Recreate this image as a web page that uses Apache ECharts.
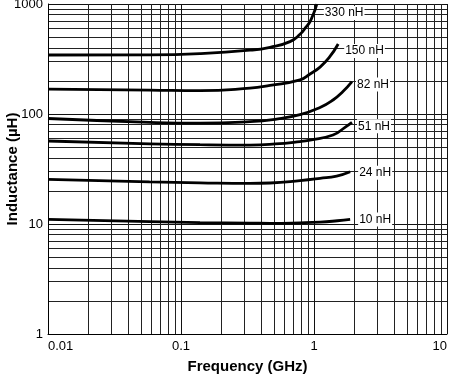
<!DOCTYPE html>
<html>
<head>
<meta charset="utf-8">
<script src="https://cdn.jsdelivr.net/npm/echarts@6/dist/echarts.min.js"></script>
<style>html,body{margin:0;padding:0;background:#fff}#c{width:450px;height:378px}</style>
</head>
<body>
<div id="c"></div>
<script>
// Frequency (GHz) / Inductance (nH) readings per curve
const f330 = [0.01, 0.058, 0.139, 0.33, 0.467, 0.66, 0.785, 0.87, 0.933, 0.98, 1.017, 1.05];
const l330 = [344, 345, 354, 380, 404, 455, 530, 615, 690, 790, 882, 1000];
const f150 = [0.01, 0.058, 0.139, 0.33, 0.467, 0.785, 0.933, 1.11, 1.31, 1.52];
const l150 = [168, 165, 163, 172, 182, 204, 231, 267, 330, 433];
const f82 = [0.01, 0.058, 0.139, 0.33, 0.51, 0.785, 1.11, 1.39, 1.65, 1.93];
const l82 = [91, 84, 82.5, 85.1, 89.5, 98.5, 114.6, 134, 160, 197];
const f51 = [0.01, 0.058, 0.139, 0.33, 0.51, 0.785, 0.933, 1.39, 1.71, 1.93];
const l51 = [56.8, 53.6, 52.6, 52.2, 53.4, 56.2, 58, 64.4, 75.7, 84];
const f24 = [0.01, 0.058, 0.139, 0.33, 0.467, 0.785, 1.11, 1.48, 1.87];
const l24 = [25.5, 24.2, 23.7, 23.4, 23.6, 24.8, 26.0, 27.3, 29.9];
const f10 = [0.01, 0.058, 0.139, 0.33, 0.47, 0.785, 1.11, 1.5, 1.87];
const l10 = [11.0, 10.5, 10.3, 10.2, 10.15, 10.25, 10.4, 10.7, 11.0];
const curveNames = ['330 nH', '150 nH', '82 nH', '51 nH', '24 nH', '10 nH'];
const xTicks = [0.01, 0.1, 1, 10];
const yTicks = [1, 10, 100, 1000];

const curves = [[f330, l330], [f150, l150], [f82, l82], [f51, l51], [f24, l24], [f10, l10]];
const labelOffsets = [[7, 9], [6, 7], [4, 3], [5, 4], [8, 1], [8, 0]];

const font = 'Liberation Sans, Arial, Helvetica, sans-serif';
const series = curves.map(function (c, i) {
  return {
    type: 'line',
    name: curveNames[i],
    data: c[0].map(function (f, j) { return [f, c[1][j]]; }),
    smooth: 0.5,
    symbol: 'none',
    lineStyle: { color: '#000', width: 2.8 },
    endLabel: {
      show: true,
      formatter: curveNames[i],
      color: '#000',
      fontFamily: font,
      fontSize: 12,
      backgroundColor: '#fff',
      padding: [1, 1],
      distance: 0,
      offset: labelOffsets[i]
    },
    silent: true,
    z: 3
  };
});

const chart = echarts.init(document.getElementById('c'), null, { renderer: 'canvas' });
chart.setOption({
  animation: false,
  backgroundColor: '#fff',
  grid: { left: 48, right: 3, top: 4, bottom: 44, containLabel: false, outerBoundsMode: 'none' },
  xAxis: {
    type: 'log', logBase: 10, min: 0.01, max: 10,
    name: 'Frequency (GHz)', nameLocation: 'middle', nameGap: 25, nameMoveOverlap: false,
    nameTextStyle: { fontFamily: font, fontSize: 15, fontWeight: 'bold', color: '#000' },
    axisLine: { show: true, lineStyle: { color: '#000', width: 1 } },
    axisTick: { show: false },
    minorTick: { show: false, splitNumber: 9 },
    axisLabel: {
      color: '#000', fontFamily: font, fontSize: 13, margin: 6,
      alignMinLabel: 'left', alignMaxLabel: 'right',
      formatter: function (v) {
        for (let k = 0; k < xTicks.length; k++) { if (Math.abs(v - xTicks[k]) < xTicks[k] * 1e-6) return String(xTicks[k]); }
        return '';
      }
    },
    splitLine: { show: true, lineStyle: { color: '#111', width: 1 } },
    minorSplitLine: { show: true, lineStyle: { color: '#222', width: 1 } }
  },
  yAxis: {
    type: 'log', logBase: 10, min: 1, max: 1000,
    name: 'Inductance (µH)', nameLocation: 'middle', nameGap: 28, nameRotate: 90, nameMoveOverlap: false,
    nameTextStyle: { fontFamily: font, fontSize: 15, fontWeight: 'bold', color: '#000' },
    axisLine: { show: true, lineStyle: { color: '#000', width: 1 } },
    axisTick: { show: false },
    minorTick: { show: false, splitNumber: 9 },
    axisLabel: {
      color: '#000', fontFamily: font, fontSize: 13, margin: 5,
      formatter: function (v) {
        for (let k = 0; k < yTicks.length; k++) { if (Math.abs(v - yTicks[k]) < yTicks[k] * 1e-6) return String(yTicks[k]); }
        return '';
      }
    },
    splitLine: { show: true, lineStyle: { color: '#111', width: 1 } },
    minorSplitLine: { show: true, lineStyle: { color: '#222', width: 1 } }
  },
  series: series
});
</script>
</body>
</html>
